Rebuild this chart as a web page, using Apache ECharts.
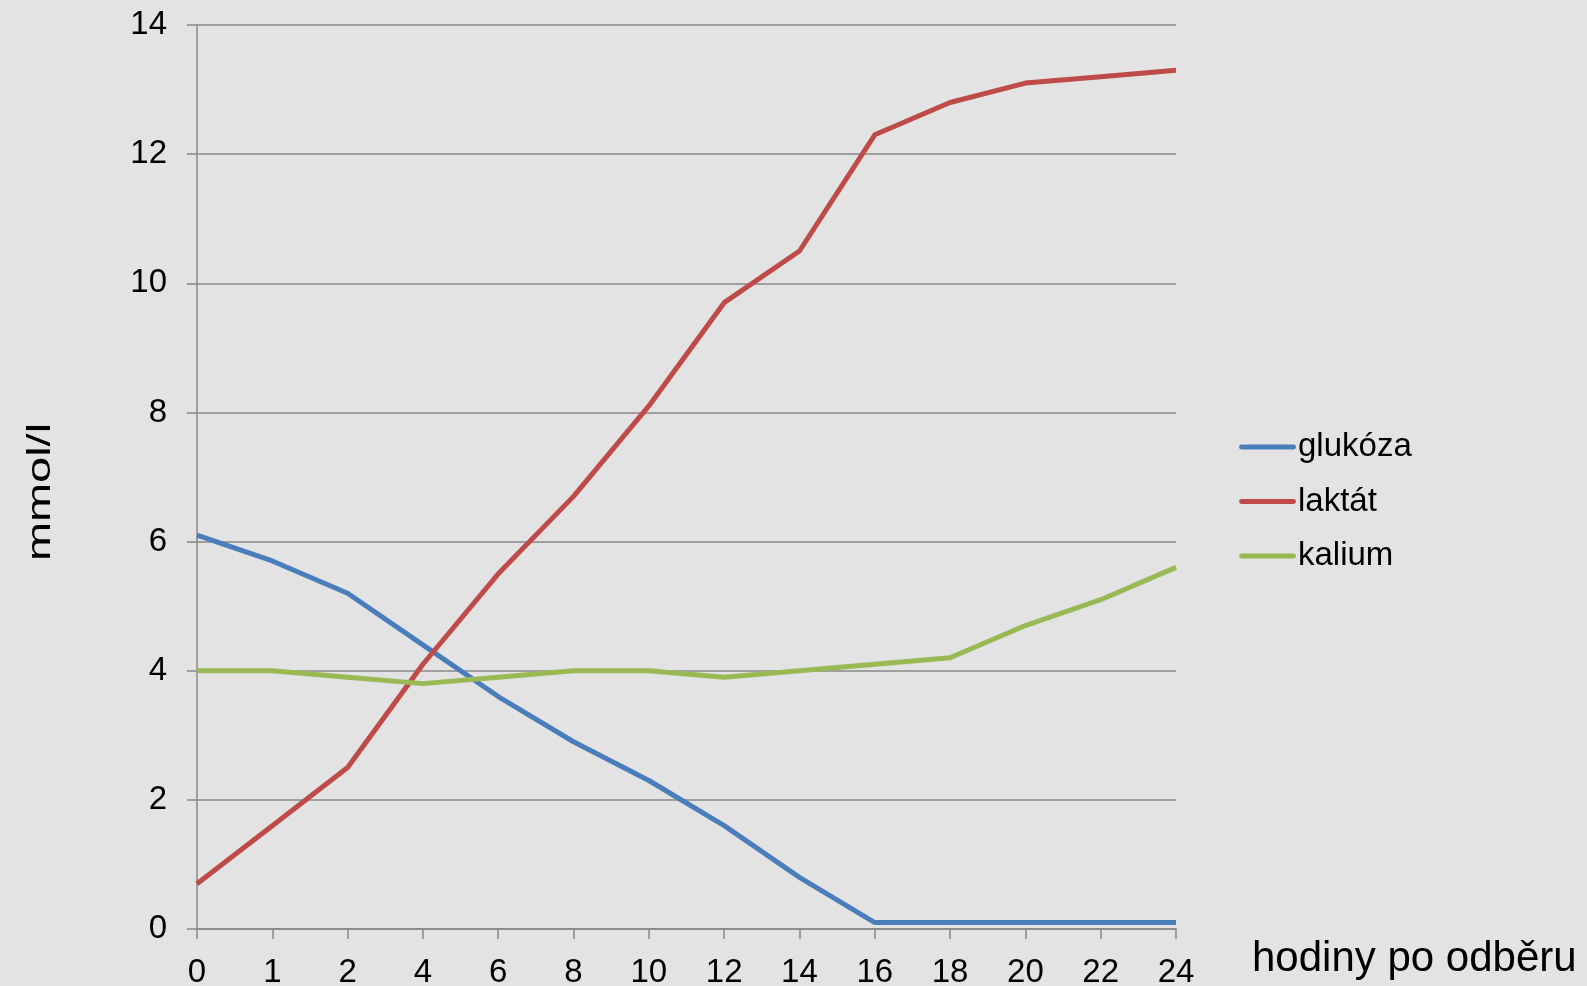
<!DOCTYPE html>
<html>
<head>
<meta charset="utf-8">
<script src="https://cdn.jsdelivr.net/npm/echarts@6/dist/echarts.min.js"></script>
<style>
  html, body { margin: 0; padding: 0; background: #e3e3e3; }
  #chart { width: 1587px; height: 986px; }
</style>
</head>
<body>
<div id="chart"></div>
<script>
// Hours after blood draw (category axis, unevenly spaced values shown evenly)
const hours = ['0', '1', '2', '4', '6', '8', '10', '12', '14', '16', '18', '20', '22', '24'];

// Concentrations in mmol/l
const glukoza = [6.1, 5.7, 5.2, 4.4, 3.6, 2.9, 2.3, 1.6, 0.8, 0.1, 0.1, 0.1, 0.1, 0.1];
const laktat  = [0.7, 1.6, 2.5, 4.1, 5.5, 6.7, 8.1, 9.7, 10.5, 12.3, 12.8, 13.1, 13.2, 13.3];
const kalium  = [4.0, 4.0, 3.9, 3.8, 3.9, 4.0, 4.0, 3.9, 4.0, 4.1, 4.2, 4.7, 5.1, 5.6];

const seriesNames = ['glukóza', 'laktát', 'kalium'];
const seriesColors = ['#4a7ebb', '#be4b48', '#98b954'];

const xAxisTitle = 'hodiny po odběru';
const yAxisTitle = 'mmol/l';

const font = '"Liberation Sans", Arial, sans-serif';
const axisGray = '#888888';
// capsule-shaped legend swatch
const legendIcon = 'path://M2.5,0 L55.5,0 A2.5,2.5 0 0 1 55.5,5 L2.5,5 A2.5,2.5 0 0 1 2.5,0 Z';

const chart = echarts.init(document.getElementById('chart'));

function lineSeries(name, data, color) {
  return {
    name: name,
    type: 'line',
    data: data,
    symbol: 'none',
    smooth: false,
    lineStyle: { color: color, width: 5 },
    itemStyle: { color: color }
  };
}

chart.setOption({
  backgroundColor: '#e3e3e3',
  animation: false,
  textStyle: { fontFamily: font },
  grid: {
    left: 197, right: 411, top: 25, bottom: 57,
    containLabel: false,
    outerBoundsMode: 'none'
  },
  legend: {
    orient: 'vertical',
    left: 1234,
    top: 423,
    itemWidth: 57,
    itemHeight: 5,
    itemGap: 16.5,
    data: seriesNames.map(n => ({ name: n, icon: legendIcon })),
    textStyle: { fontSize: 33, color: '#000', fontFamily: font, lineHeight: 38, padding: [0, 0, 0, -3] }
  },
  graphic: [
    {
      type: 'text',
      x: 1252,
      y: 959,
      style: {
        text: xAxisTitle,
        font: '42px ' + font,
        fill: '#000',
        align: 'left',
        verticalAlign: 'middle'
      }
    },
    {
      type: 'text',
      x: 41,
      y: 492,
      rotation: Math.PI / 2,
      scaleX: 1.38,
      style: {
        text: yAxisTitle,
        font: '34px ' + font,
        fill: '#000',
        align: 'center',
        verticalAlign: 'middle'
      }
    }
  ],
  xAxis: {
    type: 'category',
    data: hours,
    boundaryGap: false,
    axisLine: { show: true, lineStyle: { color: axisGray, width: 1.5 } },
    axisTick: { show: true, alignWithLabel: true, length: 10, lineStyle: { color: axisGray, width: 1.5 } },
    axisLabel: { fontSize: 33, color: '#000', fontFamily: font, margin: 27, interval: 0 },
    splitLine: { show: false }
  },
  yAxis: {
    type: 'value',
    min: 0,
    max: 14,
    interval: 2,
    axisLine: { show: true, lineStyle: { color: axisGray, width: 1.5 } },
    axisTick: { show: true, length: 10, lineStyle: { color: axisGray, width: 1.5 } },
    axisLabel: { fontSize: 33, color: '#000', fontFamily: font, margin: 30 },
    splitLine: { show: true, lineStyle: { color: axisGray, width: 1.5 } }
  },
  series: [
    lineSeries(seriesNames[0], glukoza, seriesColors[0]),
    lineSeries(seriesNames[1], laktat, seriesColors[1]),
    lineSeries(seriesNames[2], kalium, seriesColors[2])
  ]
});
</script>
</body>
</html>
